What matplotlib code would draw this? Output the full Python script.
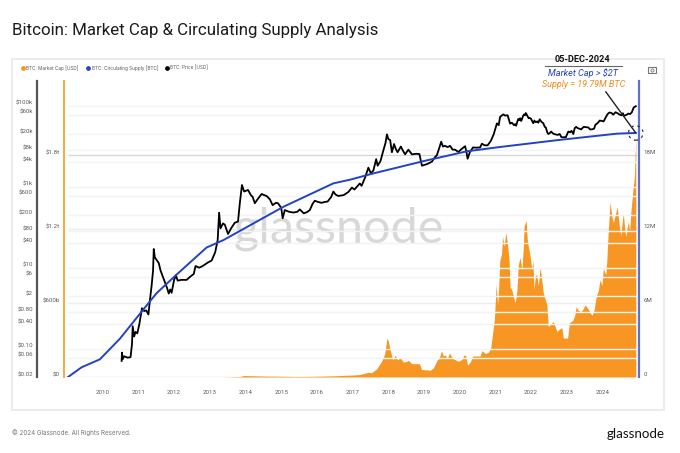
import matplotlib

matplotlib.use("Agg")

import matplotlib.pyplot as plt
from matplotlib.lines import Line2D
from matplotlib.patches import Rectangle
from matplotlib.transforms import ScaledTranslation

W, H = 680, 453

# market cap, $T
cap_years = [2009.0, 2013.3, 2013.85, 2013.95, 2014.5, 2015.5, 2016.0, 2016.5, 2017.0, 2017.2, 2017.44, 2017.52, 2017.6, 2017.67, 2017.81,
             2017.9, 2017.96, 2018.0, 2018.05, 2018.12, 2018.19, 2018.26, 2018.33, 2018.42, 2018.5, 2018.56, 2018.66, 2018.87, 2018.93,
             2019.1, 2019.17, 2019.26, 2019.37, 2019.42, 2019.49, 2019.54, 2019.59, 2019.65, 2019.71, 2019.76, 2019.82, 2019.96, 2020.05, 2020.12, 2020.17,
             2020.22, 2020.3, 2020.36, 2020.57, 2020.62, 2020.72, 2020.8, 2020.87, 2020.92, 2020.97, 2021.02, 2021.06, 2021.09, 2021.12, 2021.17,
             2021.2, 2021.24, 2021.29, 2021.34, 2021.38, 2021.41, 2021.45, 2021.5, 2021.55, 2021.6, 2021.64, 2021.69, 2021.74, 2021.78, 2021.8,
             2021.86, 2021.89, 2021.92, 2021.97, 2022.02, 2022.05, 2022.08, 2022.12, 2022.16, 2022.2, 2022.25, 2022.3, 2022.34, 2022.44, 2022.48,
             2022.55, 2022.62, 2022.72, 2022.8, 2022.86, 2022.9, 2023.02, 2023.07, 2023.17, 2023.22, 2023.26, 2023.32, 2023.39, 2023.45, 2023.51,
             2023.61, 2023.7, 2023.76, 2023.82, 2023.88, 2023.93, 2023.98, 2024.02, 2024.09, 2024.12, 2024.16, 2024.21, 2024.26, 2024.3, 2024.36,
             2024.41, 2024.47, 2024.51, 2024.58, 2024.62, 2024.65, 2024.72, 2024.76, 2024.79, 2024.85, 2024.89, 2024.93]
cap_values = [0.0, 0.0, 0.004, 0.012, 0.008, 0.004, 0.006, 0.01, 0.016, 0.02, 0.038, 0.034, 0.05, 0.065, 0.127,
              0.19, 0.316, 0.29, 0.22, 0.14, 0.175, 0.14, 0.16, 0.12, 0.125, 0.135, 0.108, 0.108, 0.06,
              0.058, 0.054, 0.073, 0.14, 0.15, 0.213, 0.17, 0.18, 0.15, 0.194, 0.17, 0.148, 0.127, 0.14, 0.18, 0.17,
              0.095, 0.125, 0.17, 0.17, 0.213, 0.19, 0.2, 0.24, 0.356, 0.47, 0.75, 0.585, 0.72, 0.94, 1.0,
              1.14, 1.06, 1.17, 1.07, 0.95, 0.73, 0.71, 0.66, 0.6, 0.7, 0.91, 0.97, 0.87, 1.05, 1.22,
              1.27, 1.12, 1.06, 0.98, 0.87, 0.95, 0.71, 0.82, 0.83, 0.74, 0.89, 0.78, 0.68, 0.585, 0.41,
              0.43, 0.45, 0.37, 0.39, 0.40, 0.316, 0.316, 0.44, 0.46, 0.5, 0.57, 0.54, 0.53, 0.55, 0.585,
              0.545, 0.5, 0.54, 0.65, 0.7, 0.79, 0.74, 0.88, 0.83, 0.95, 1.19, 1.42, 1.3, 1.25, 1.32,
              1.38, 1.22, 1.15, 1.33, 1.2, 1.14, 1.26, 1.18, 1.33, 1.52, 1.62, 1.95]

# circulating supply, million BTC
supply_years = [2009.03, 2009.41, 2009.92, 2010.48, 2011.09, 2011.51, 2012.03, 2012.91, 2013.38, 2015.06, 2016.46, 2016.93,
                2017.57, 2018.98, 2020.2, 2021.13, 2022.72, 2024.4, 2024.93]
supply_values = [0.0, 0.79, 1.43, 3.1, 5.3, 6.8, 8.2, 10.5, 11.1, 13.8, 15.7, 16.0,
                 16.5, 17.5, 18.3, 18.65, 19.2, 19.73, 19.79]

# price, USD
price_years = [2010.53, 2010.54, 2010.56, 2010.6, 2010.7, 2010.78, 2010.82, 2010.84, 2010.88, 2010.92, 2010.97, 2011.03, 2011.1, 2011.16, 2011.22,
               2011.28, 2011.33, 2011.37, 2011.41, 2011.43, 2011.46, 2011.52, 2011.57, 2011.62, 2011.7, 2011.8, 2011.85, 2011.89, 2011.93, 2012.0,
               2012.05, 2012.1, 2012.2, 2012.35, 2012.47, 2012.55, 2012.6, 2012.7, 2012.8, 2012.95, 2013.05, 2013.15, 2013.22, 2013.26, 2013.3,
               2013.37, 2013.42, 2013.51, 2013.6, 2013.7, 2013.79, 2013.84, 2013.9, 2013.96, 2014.07, 2014.15, 2014.2, 2014.26, 2014.33, 2014.45,
               2014.52, 2014.59, 2014.68, 2014.76, 2014.85, 2014.91, 2015.0, 2015.04, 2015.1, 2015.22, 2015.34, 2015.45, 2015.52, 2015.63, 2015.72,
               2015.8, 2015.88, 2015.94, 2016.03, 2016.13, 2016.22, 2016.3, 2016.4, 2016.46, 2016.52, 2016.6, 2016.75, 2016.88, 2016.98, 2017.05,
               2017.2, 2017.25, 2017.35, 2017.44, 2017.51, 2017.58, 2017.66, 2017.7, 2017.78, 2017.85, 2017.92, 2017.96, 2018.0, 2018.05, 2018.1,
               2018.16, 2018.21, 2018.26, 2018.35, 2018.41, 2018.47, 2018.56, 2018.66, 2018.78, 2018.87, 2018.94, 2019.08, 2019.22, 2019.3, 2019.36,
               2019.42, 2019.48, 2019.53, 2019.59, 2019.66, 2019.73, 2019.8, 2019.87, 2019.96, 2020.05, 2020.15, 2020.19, 2020.22, 2020.28, 2020.37,
               2020.47, 2020.57, 2020.62, 2020.7, 2020.78, 2020.87, 2020.95, 2021.04, 2021.09, 2021.13, 2021.22, 2021.27, 2021.34, 2021.41, 2021.46]
price_values = [0.05, 0.08, 0.055, 0.065, 0.06, 0.062, 0.13, 0.36, 0.2, 0.26, 0.24, 0.42, 1.0, 0.85, 0.88,
                0.7, 1.8, 3.6, 8.5, 29, 18, 15, 13, 8.5, 5.5, 3.2, 2.3, 2.9, 2.4, 5,
                6.5, 4.8, 5, 5, 6.2, 7, 11, 10, 11, 13.5, 15, 24, 48, 228, 94,
                124, 115, 68, 95, 129, 138, 390, 1100, 760, 830, 620, 560, 390, 480, 660,
                620, 590, 490, 350, 400, 390, 300, 166, 265, 240, 230, 240, 275, 220, 235,
                265, 380, 450, 420, 400, 420, 430, 560, 760, 640, 590, 620, 740, 950, 850,
                1200, 1050, 1700, 2950, 2140, 2500, 4800, 3300, 4300, 7300, 12000, 19600, 15000, 14200, 7100,
                11300, 8500, 7100, 9800, 7700, 6300, 8200, 6300, 6500, 6400, 3300, 3600, 4150, 5300, 6000,
                8700, 12900, 9800, 10200, 9500, 10200, 8200, 8200, 7200, 8500, 10000, 7000, 4900, 7000, 9300,
                9200, 9300, 11500, 10500, 10500, 13500, 19600, 36500, 33000, 53000, 61000, 57000, 58000, 36000, 38000]

late_years = [2021.52, 2021.55, 2021.58, 2021.61, 2021.64, 2021.67, 2021.69, 2021.72, 2021.74, 2021.77, 2021.8, 2021.83, 2021.85, 2021.89,
              2021.93, 2021.96, 2022.0, 2022.03, 2022.06, 2022.09, 2022.13, 2022.17, 2022.2, 2022.24, 2022.27, 2022.3, 2022.34, 2022.38,
              2022.41, 2022.45, 2022.48, 2022.52, 2022.56, 2022.6, 2022.64, 2022.69, 2022.74, 2022.8, 2022.84, 2022.88, 2022.92, 2022.97,
              2023.04, 2023.09, 2023.13, 2023.18, 2023.22, 2023.26, 2023.3, 2023.35, 2023.4, 2023.47, 2023.53, 2023.6, 2023.65, 2023.7,
              2023.76, 2023.8, 2023.86, 2023.92, 2023.98, 2024.03, 2024.09, 2024.14, 2024.19, 2024.25, 2024.3, 2024.36, 2024.42, 2024.48,
              2024.53, 2024.57, 2024.6, 2024.68, 2024.72, 2024.77, 2024.82, 2024.87, 2024.93]
late_prices = [33000, 35000, 32000, 40000, 47000, 44000, 49000, 42000, 46000, 55000, 61000, 58000, 66000, 57000,
               49000, 50000, 47000, 41000, 37000, 43000, 39000, 41000, 38000, 46000, 42000, 39000, 37000, 30000,
               29000, 22000, 20000, 21000, 23000, 21000, 20000, 19500, 19000, 20000, 17000, 16500, 16700, 16600,
               23000, 22000, 24000, 20000, 28000, 30000, 28000, 27000, 26000, 30000, 29500, 29000, 26000, 26000,
               27000, 34000, 37000, 43000, 42000, 41000, 52000, 62000, 68000, 66000, 60000, 69000, 65000, 60000,
               58000, 65000, 56000, 60000, 64000, 62000, 69000, 90000, 97000]

cap_ticks = [0, 0.6, 1.2, 1.8]
cap_labels = ["$0", "$600b", "$1.2t", "$1.8t"]
supply_ticks = [0, 6, 12, 18]
supply_labels = ["0", "6M", "12M", "18M"]
price_ticks = [0.02, 0.06, 0.1, 0.4, 0.8, 2, 6, 10, 40, 80, 200, 600, 1000, 4000, 8000, 20000, 60000, 100000]
price_labels = ["$0.02", "$0.06", "$0.10", "$0.40", "$0.80", "$2", "$6", "$10", "$40", "$80", "$200", "$600",
                "$1k", "$4k", "$8k", "$20k", "$60k", "$100k"]
year_ticks = list(range(2010, 2025))

ORANGE = "#f7931a"
BLUE = "#2342c4"
TICK = "#5a5a5a"


def fx(x):
    return x / W


def fy(y):
    return 1 - y / H


def nudge(axis, dy):
    # glassnode sets its y labels just above the gridline
    off = ScaledTranslation(0, dy / 100, fig.dpi_scale_trans)
    for label in axis.get_ticklabels():
        label.set_transform(label.get_transform() + off)


plt.rcParams["font.family"] = ["Roboto", "DejaVu Sans"]
fig = plt.figure(figsize=(W / 100, H / 100), dpi=100, facecolor="white")

fig.patches.append(Rectangle((fx(12), fy(410)), 652 / W, 351 / H, transform=fig.transFigure,
                             facecolor="white", edgecolor="#ececec", linewidth=1.5, figure=fig, zorder=-1))

ax = fig.add_axes([fx(64), fy(377), 575 / W, 296 / H])
ax.patch.set_visible(False)
price_ax = ax.twinx()
supply_ax = ax.twinx()
for a in (price_ax, supply_ax):
    a.patch.set_visible(False)

ax.set_xlim(2008.916, 2025.02)
ax.set_ylim(0, 2.4)
supply_ax.set_ylim(0, 24)
price_ax.set_yscale("log")
price_ax.set_ylim(0.02, 0.02 * 10 ** (296 / 40.5))

ax.hlines(cap_ticks[1:3], 2009.03, 2024.96, color="#ececec", linewidth=1.0, zorder=0)
ax.hlines(cap_ticks[3], 2009.03, 2024.96, color="#d4d4d4", linewidth=0.9, zorder=0)
ax.hlines(0, 2009.03, 2024.96, color="#e2e2e2", linewidth=1.0, zorder=0)

ax.text(fx(339), fy(229), "glassnode", transform=fig.transFigure, ha="center", va="center",
        family="Lato", fontsize=35, color="#d8d8d8", zorder=0.5)

ax.fill_between(cap_years, cap_values, 0, color=ORANGE, linewidth=0, alpha=0.97, zorder=1)
price_ax.hlines(price_ticks[1:], 2009.03, 2024.96, color="#f3f3f3", linewidth=1.0, zorder=0)
price_ax.plot(price_years + late_years, price_values + late_prices, color="black", linewidth=1.3, zorder=3)
supply_ax.plot(supply_years, supply_values, color=BLUE, linewidth=1.4, zorder=4)

ax.set_xticks(year_ticks)
ax.set_xticklabels([str(y) for y in year_ticks])
ax.tick_params(axis="x", length=0, pad=9, labelsize=4.4, labelcolor=TICK)
ax.set_yticks(cap_ticks)
ax.set_yticklabels(cap_labels)
ax.tick_params(axis="y", length=0, pad=3, labelsize=4.4, labelcolor=TICK)
supply_ax.set_yticks(supply_ticks)
supply_ax.set_yticklabels(supply_labels)
supply_ax.tick_params(axis="y", length=0, pad=3.5, labelsize=4.4, labelcolor=TICK)
price_ax.yaxis.tick_left()
price_ax.set_yticks(price_ticks)
price_ax.set_yticklabels(price_labels)
price_ax.minorticks_off()
price_ax.tick_params(axis="y", length=0, pad=22.3, labelsize=4.4, labelcolor=TICK)

for a in (ax, price_ax, supply_ax):
    for s in a.spines.values():
        s.set_visible(False)
ax.spines["left"].set_visible(True)
ax.spines["left"].set_color("#f9a648")
ax.spines["left"].set_linewidth(1.4)
supply_ax.spines["right"].set_visible(True)
supply_ax.spines["right"].set_color("#5f70cc")
supply_ax.spines["right"].set_linewidth(1.6)
# price axis bar
fig.add_artist(Line2D([fx(37), fx(37)], [fy(81), fy(377)], color="#555555", linewidth=1.6))

nudge(ax.yaxis, 3)
nudge(supply_ax.yaxis, 3)
nudge(price_ax.yaxis, 3)

# header, legend and footer
fig.text(fx(12), fy(30), "Bitcoin: Market Cap & Circulating Supply Analysis", fontsize=12.2,
         color="#1c1c1c", va="center")
legend_items = [(22.5, "BTC: Market Cap [USD]", ORANGE), (88, "BTC: Circulating Supply [BTC]", BLUE),
                (167, "BTC: Price [USD]", "black")]
for x, name, color in legend_items:
    fig.add_artist(Line2D([fx(x)], [fy(68)], marker="o", markersize=2.4, color=color, linewidth=0))
    fig.text(fx(x + 3.5), fy(68), name, family="Inter", fontsize=3.4, color=TICK, va="center")
fig.text(fx(12), fy(433), "© 2024 Glassnode. All Rights Reserved.", family="Inter", fontsize=4.5, color="#777777",
         va="center")
fig.text(fx(665), fy(434), "glassnode", family="Lato", fontsize=9.6, color="#111111", ha="right", va="center")

# camera icon
fig.patches.append(Rectangle((fx(648), fy(72.5)), 8 / W, 6 / H, transform=fig.transFigure, facecolor="none",
                             edgecolor="#777777", linewidth=0.8, figure=fig))
fig.add_artist(Line2D([fx(652)], [fy(69.5)], marker="o", markersize=2.2, markerfacecolor="none",
                      markeredgecolor="#777777", markeredgewidth=0.6, linewidth=0))

# callout
fig.text(fx(582.5), fy(60), "05-DEC-2024", fontsize=6.6, fontweight="bold", color="#111111",
         ha="center", va="center")
fig.add_artist(Line2D([fx(545), fx(622)], [fy(65.5), fy(65.5)], color="#666666", linewidth=0.8))
fig.text(fx(583), fy(73), "Market Cap > $2T", fontsize=6.6, style="italic", color=BLUE,
         ha="center", va="center")
fig.text(fx(584), fy(84.5), "Supply = 19.79M BTC", fontsize=6.5, style="italic", color="#f08a1d",
         ha="center", va="center")
supply_ax.annotate("", xy=(supply_years[-1], supply_values[-1]), xytext=(fx(605.7), fy(91.7)),
                   textcoords="figure fraction", annotation_clip=False,
                   arrowprops=dict(arrowstyle="-", color="#222222", linewidth=1.0, shrinkA=0, shrinkB=0), zorder=5)
supply_ax.scatter([supply_years[-1]], [supply_values[-1]], s=110, facecolors="none", edgecolors="#333333",
                  linewidths=0.9, linestyles=(0, (2, 3)), clip_on=False, zorder=5)

fig.savefig("out.png", dpi=100)
